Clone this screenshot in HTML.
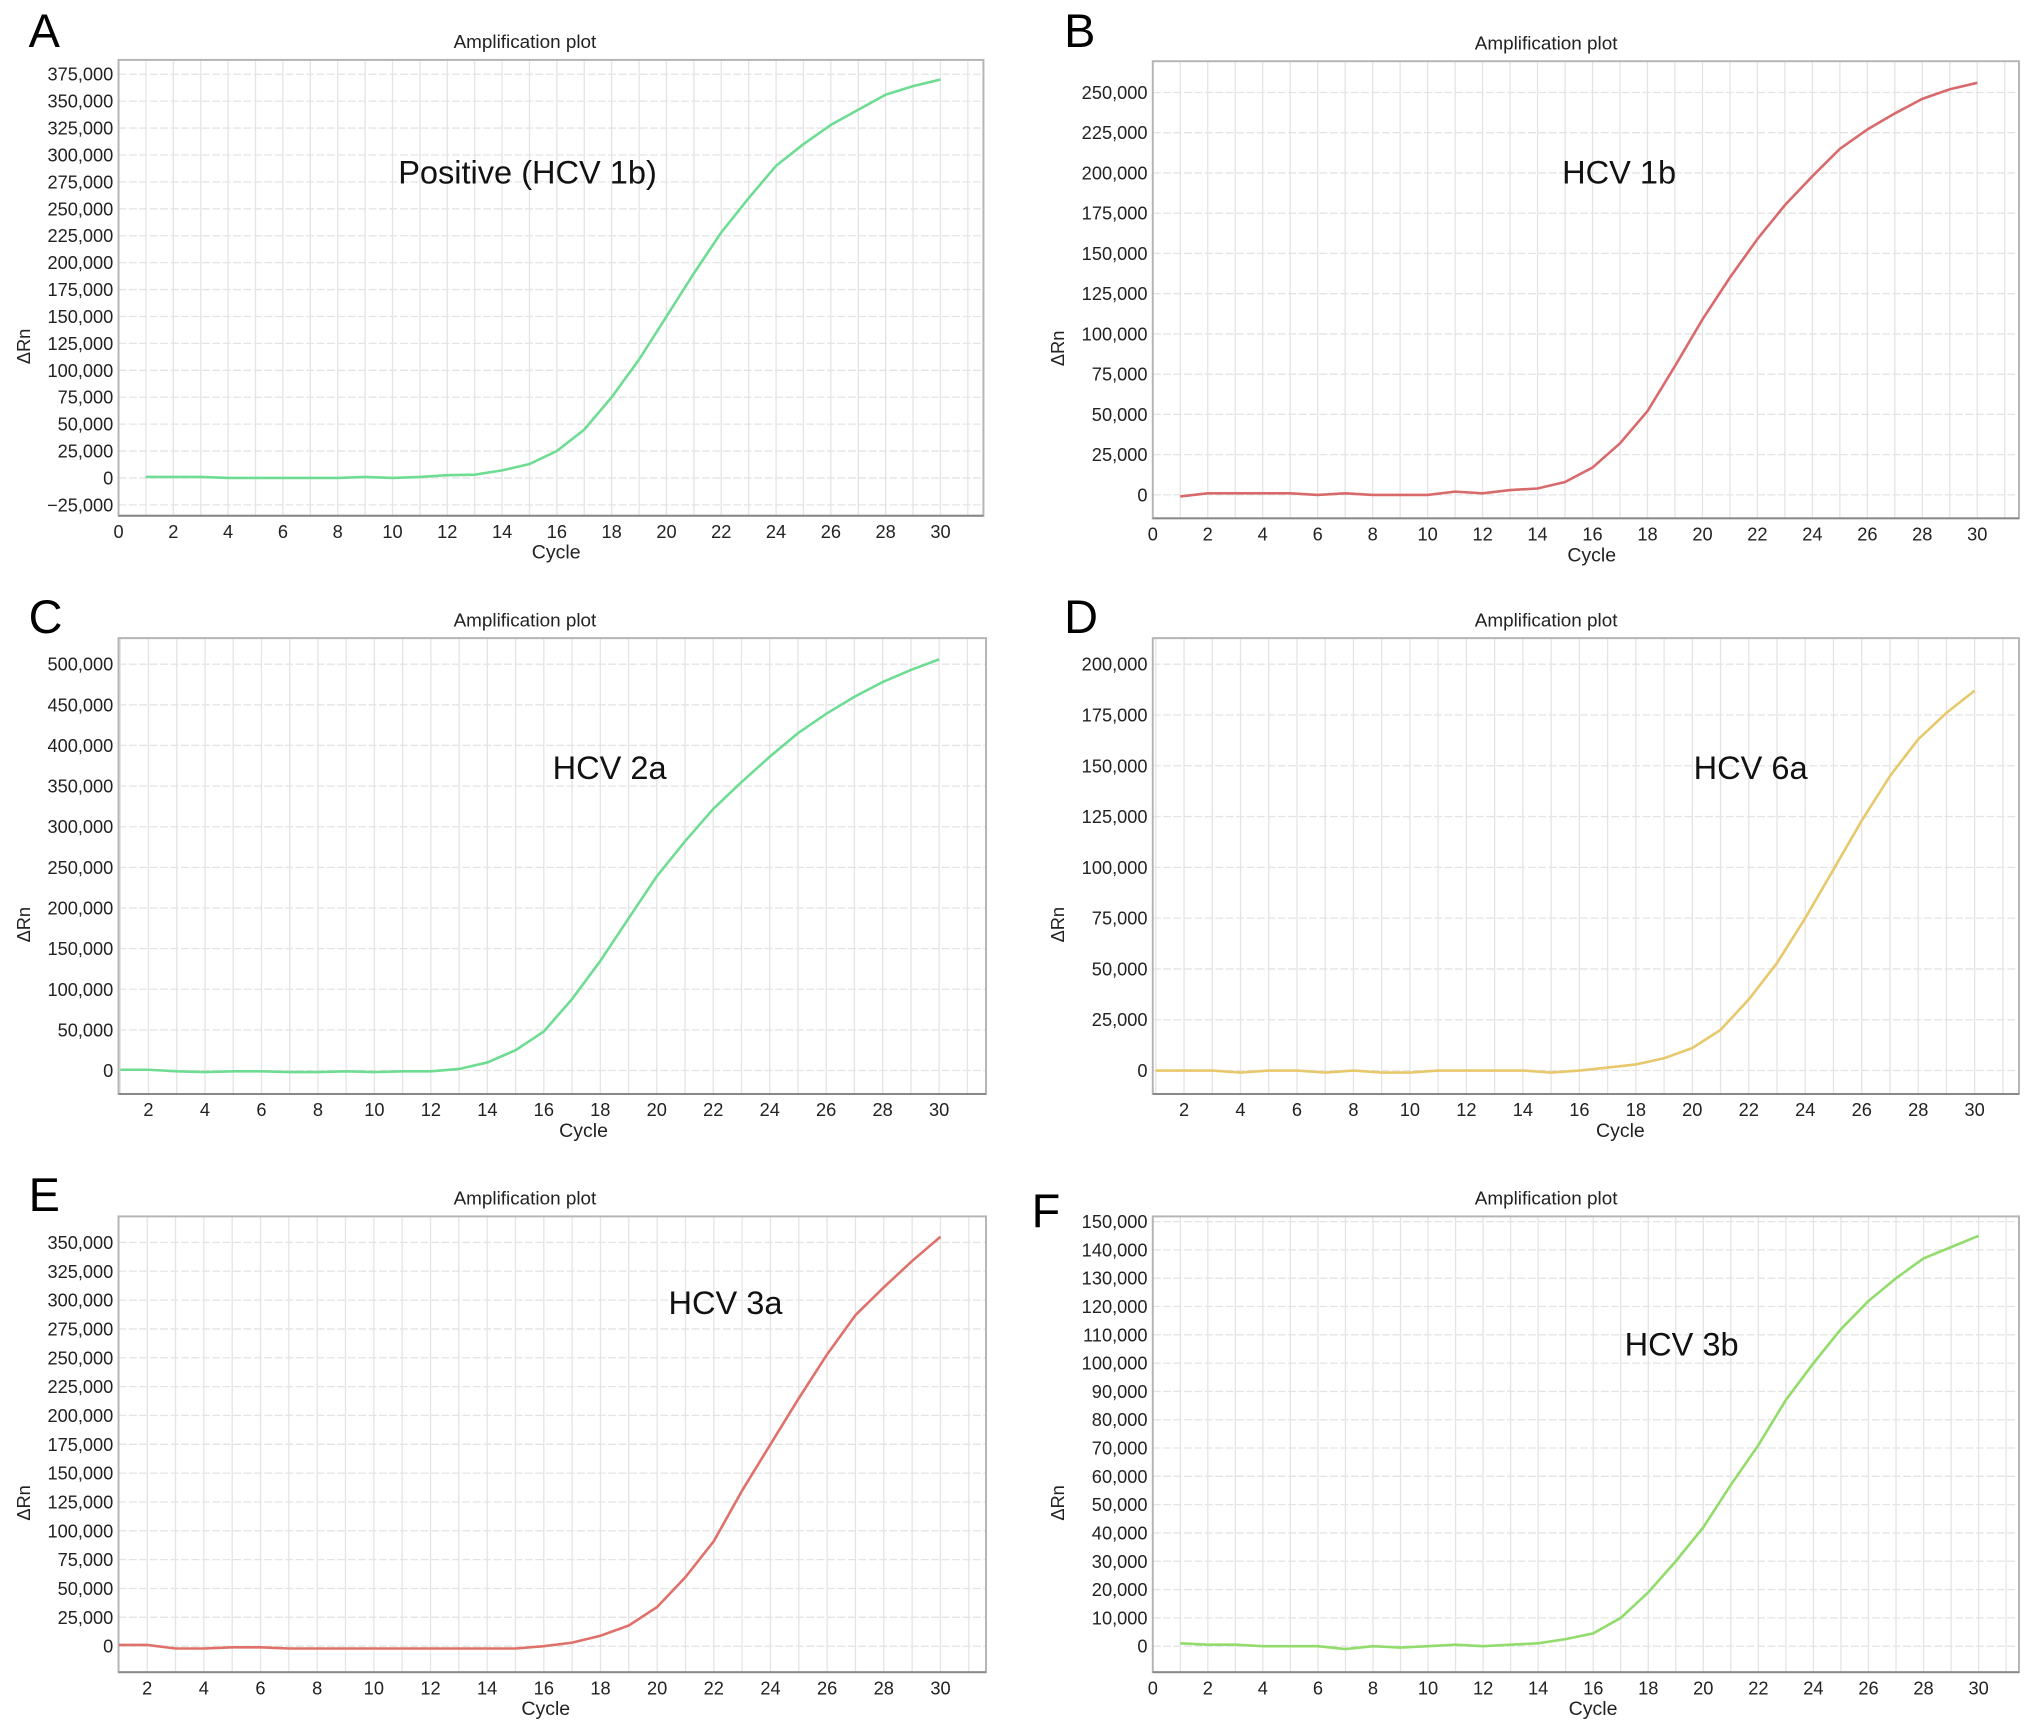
<!DOCTYPE html>
<html><head><meta charset="utf-8"><style>
html,body{margin:0;padding:0;background:#fff}
svg{display:block}
text{font-family:"Liberation Sans",sans-serif}
</style></head><body>
<svg id="fig" width="2032" height="1723" viewBox="0 0 1560 1323" preserveAspectRatio="none" xmlns="http://www.w3.org/2000/svg"></svg>
<script>
const cycles = [1,2,3,4,5,6,7,8,9,10,11,12,13,14,15,16,17,18,19,20,21,22,23,24,25,26,27,28,29,30];
const seriesA = [1000,1000,1000,0,0,0,0,0,1000,0,1000,2500,3000,7000,13000,25000,45000,75000,110000,150000,190000,228000,260000,290000,310000,328000,342000,356000,364000,370000];
const seriesB = [-1000,1000,1000,1000,1000,0,1000,0,0,0,2000,1000,3000,4000,8000,17000,32000,52000,80000,109000,135000,159000,180000,198000,215000,227000,237000,246000,252000,256000];
const seriesC = [1000,1000,-1000,-2000,-1000,-1000,-2000,-2000,-1000,-2000,-1000,-1000,2000,10000,25000,48000,88000,135000,187000,239000,282000,322000,355000,386000,415000,439000,460000,478000,493000,506000];
const seriesD = [0,0,0,-1000,0,0,-1000,0,-1000,-1000,0,0,0,0,-1000,0,1500,3000,6000,11000,20000,35000,53000,75000,99000,123000,145000,163000,176000,187000];
const seriesE = [1000,1000,-2000,-2000,-1000,-1000,-2000,-2000,-2000,-2000,-2000,-2000,-2000,-2000,-2000,0,3000,9000,18000,34000,60000,91000,135000,175000,215000,253000,287000,311000,334000,355000];
const seriesF = [1000,500,500,0,0,0,-1000,0,-500,0,500,0,500,1000,2500,4500,10000,19000,30000,42000,57000,71000,87000,100000,112000,122000,130000,137000,141000,145000];
const yTicksA = [-25000,0,25000,50000,75000,100000,125000,150000,175000,200000,225000,250000,275000,300000,325000,350000,375000];
const yTicksB = [0,25000,50000,75000,100000,125000,150000,175000,200000,225000,250000];
const yTicksC = [0,50000,100000,150000,200000,250000,300000,350000,400000,450000,500000];
const yTicksD = [0,25000,50000,75000,100000,125000,150000,175000,200000];
const yTicksE = [0,25000,50000,75000,100000,125000,150000,175000,200000,225000,250000,275000,300000,325000,350000];
const yTicksF = [0,10000,20000,30000,40000,50000,60000,70000,80000,90000,100000,110000,120000,130000,140000,150000];
const xTicksFull = [0,2,4,6,8,10,12,14,16,18,20,22,24,26,28,30];
const xTicksNoZero = [2,4,6,8,10,12,14,16,18,20,22,24,26,28,30];

const panels = [
 {id:'a',letter:'A',lx:22,ly:36,box:[91,46,755,396],x0:0,px0:91,x1:30,px1:722,y0:0,py0:367,y1:375000,py1:57,data:seriesA,yt:yTicksA,xt:xTicksFull,color:'#6fdc93',note:'Positive (HCV 1b)',nx:405,ny:141,tx:403,cx:427,yx:23},
 {id:'b',letter:'B',lx:817,ly:36,box:[885,47,1550,398],x0:0,px0:885,x1:30,px1:1518,y0:0,py0:380,y1:250000,py1:71,data:seriesB,yt:yTicksB,xt:xTicksFull,color:'#d96a6c',note:'HCV 1b',nx:1243,ny:141,tx:1187,cx:1222,yx:817},
 {id:'c',letter:'C',lx:22,ly:486,box:[91,490,757,840],x0:2,px0:114,x1:30,px1:721,y0:0,py0:822,y1:500000,py1:510,data:seriesC,yt:yTicksC,xt:xTicksNoZero,color:'#6fdc93',note:'HCV 2a',nx:468,ny:598,tx:403,cx:448,yx:23},
 {id:'d',letter:'D',lx:817,ly:486,box:[885,490,1550,840],x0:2,px0:909,x1:30,px1:1516,y0:0,py0:822,y1:200000,py1:510,data:seriesD,yt:yTicksD,xt:xTicksNoZero,color:'#e8c86c',note:'HCV 6a',nx:1344,ny:598,tx:1187,cx:1244,yx:817},
 {id:'e',letter:'E',lx:22,ly:930,box:[91,934,757,1284],x0:2,px0:113,x1:30,px1:722,y0:0,py0:1264,y1:350000,py1:954,data:seriesE,yt:yTicksE,xt:xTicksNoZero,color:'#e0716a',note:'HCV 3a',nx:557,ny:1009,tx:403,cx:419,yx:23},
 {id:'f',letter:'F',lx:792,ly:942,box:[885,934,1550,1284],x0:0,px0:885,x1:30,px1:1519,y0:0,py0:1264,y1:150000,py1:938,data:seriesF,yt:yTicksF,xt:xTicksFull,color:'#92dc6c',note:'HCV 3b',nx:1291,ny:1041,tx:1187,cx:1223,yx:817}
];
const NS='http://www.w3.org/2000/svg';
const svg=document.getElementById('fig');
function mk(tag,attrs,parent){const e=document.createElementNS(NS,tag);for(const k in attrs)e.setAttribute(k,attrs[k]);parent.appendChild(e);return e;}
function fmt(v){return v<0?'\u2212'+Math.abs(v).toLocaleString('en-US'):v.toLocaleString('en-US');}
panels.forEach(p=>{
  const g=mk('g',{},svg);
  
  
  const sx=v=>p.px0+(v-p.x0)*(p.px1-p.px0)/(p.x1-p.x0);
  const sy=v=>p.py0+(v-p.y0)*(p.py1-p.py0)/(p.y1-p.y0);
  const [L,T,R,B]=p.box;
  const lt=mk('text',{x:p.lx,y:p.ly,'font-size':36,fill:'#000'},g);lt.textContent=p.letter;
  
  
  const tt=mk('text',{x:p.tx,y:T-9,'font-size':14.5,'text-anchor':'middle',fill:'#222'},g);
  tt.textContent='Amplification plot';
  
  
  const grid=mk('g',{stroke:'#e4e4e4','stroke-width':1},g);
  
  
  for(let c=-2;c<=32;c++){const x=sx(c);if(x>L+1&&x<R-1)mk('line',{x1:x,y1:T,x2:x,y2:B},grid);}
  p.yt.forEach(v=>{const y=sy(v);mk('line',{x1:L,y1:y,x2:R,y2:y,'stroke-dasharray':'6,2'},grid);});
  const fr=mk('rect',{x:L,y:T,width:R-L,height:B-T,fill:'none',stroke:'#b4b4b4','stroke-width':1.5},g);
  
  
  mk('line',{x1:L,y1:B,x2:R,y2:B,stroke:'#888','stroke-width':1.5},g);
  p.yt.forEach(v=>{const t=mk('text',{x:L-4,y:sy(v)+5,'font-size':14,'text-anchor':'end',fill:'#222'},g);t.textContent=fmt(v);
    
    });
  p.xt.forEach(v=>{const t=mk('text',{x:sx(v),y:B+17,'font-size':14,'text-anchor':'middle',fill:'#222'},g);t.textContent=v;
    
    });
  const xl=mk('text',{x:p.cx,y:B+33,'font-size':15,'text-anchor':'middle',fill:'#222'},g);xl.textContent='Cycle';
  
  
  const yy=(T+B)/2+45;
  const yl=mk('text',{x:0,y:0,'font-size':14,'text-anchor':'middle',fill:'#222',transform:'translate('+p.yx+','+yy+') rotate(-90)'},g);yl.textContent='ΔRn';
  
  
  const nt=mk('text',{x:p.nx,y:p.ny,'font-size':25,'text-anchor':'middle',fill:'#111'},g);nt.textContent=p.note;
  
  
  const d=cycles.map((c,i)=>(i?'L':'M')+sx(c).toFixed(1)+','+sy(p.data[i]).toFixed(1)).join(' ');
  const path=mk('path',{d:d,fill:'none',stroke:p.color,'stroke-width':2},g);
  
  
});
</script>
</body></html>
